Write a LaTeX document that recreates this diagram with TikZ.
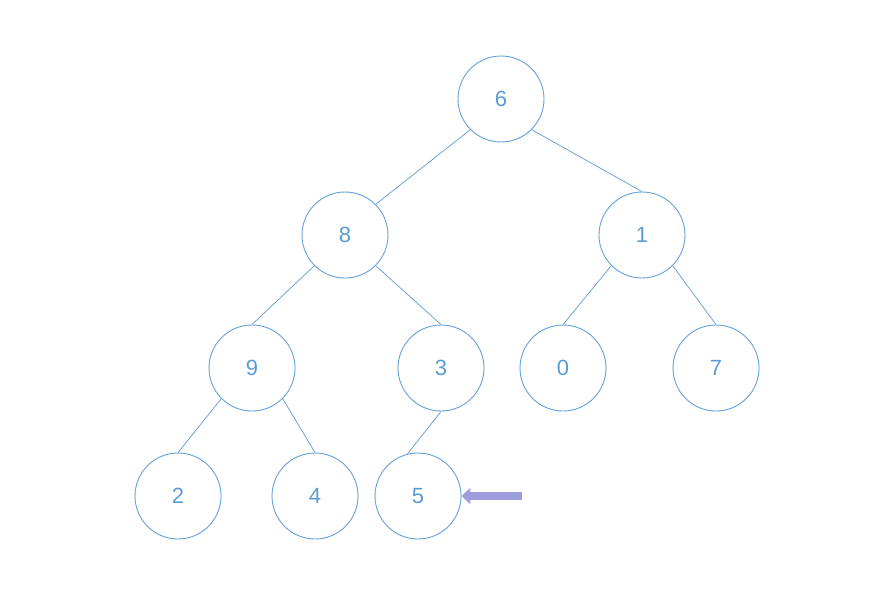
\documentclass[tikz,border=0pt]{standalone}
\usepackage{fontspec}
\setmainfont{Liberation Sans}
\usetikzlibrary{arrows.meta}
\definecolor{nodeblue}{RGB}{91,155,213}
\definecolor{edgeblue}{RGB}{100,160,220}
\definecolor{arrowpurple}{RGB}{158,158,222}
\begin{document}
\begin{tikzpicture}[x=1pt,y=-1pt,
  treenode/.style={circle,draw=edgeblue,line width=0.9pt,minimum size=86pt,inner sep=0pt,
    text=nodeblue,font=\fontsize{22}{22}\selectfont},
  edge/.style={draw=edgeblue,line width=0.75pt},
  pointer/.style={draw=arrowpurple,line width=8pt,-{Triangle[length=9pt,width=16pt]}}]
\useasboundingbox (0,0) rectangle (895,592);
\node[treenode] (n6) at (501,99) {6};
\node[treenode] (n8) at (345,235) {8};
\node[treenode] (n1) at (642,235) {1};
\node[treenode] (n9) at (252,368) {9};
\node[treenode] (n3) at (441,368) {3};
\node[treenode] (n0) at (563,368) {0};
\node[treenode] (n7) at (716,368) {7};
\node[treenode] (n2) at (178,496) {2};
\node[treenode] (n4) at (315,496) {4};
\node[treenode] (n5) at (418,496) {5};
\coordinate (tail) at (522,496);
\draw[edge] (n6.south west) -- (n8.north east);
\draw[edge] (n6.south east) -- (n1.north);
\draw[edge] (n8.south west) -- (n9.north);
\draw[edge] (n8.south east) -- (n3.north);
\draw[edge] (n1.south west) -- (n0.north);
\draw[edge] (n1.south east) -- (n7.north);
\draw[edge] (n9.south west) -- (n2.north);
\draw[edge] (n9.south east) -- (n4.north);
\draw[edge] (n3.south) -- (n5.104);
\draw[pointer] (tail) -- (n5.east);
\end{tikzpicture}
\end{document}
